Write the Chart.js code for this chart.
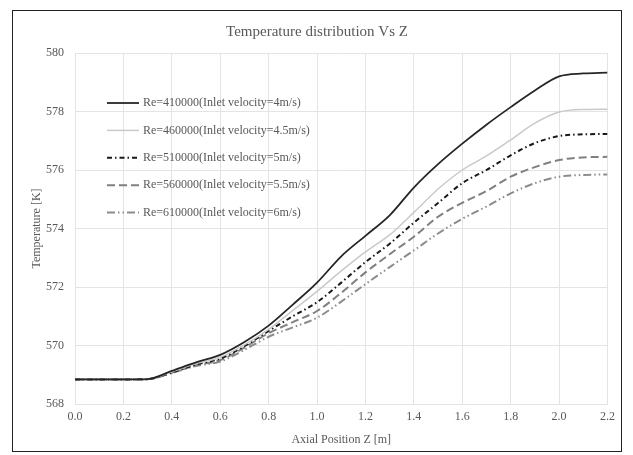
<!DOCTYPE html>
<html>
<head>
<meta charset="utf-8">
<script src="https://cdn.jsdelivr.net/npm/chart.js@4.4.1/dist/chart.umd.min.js"></script>
<style>
  html,body{margin:0;padding:0;background:#fff;}
  #frame{position:absolute;left:12px;top:10px;width:608px;height:440px;border:1px solid #222;}
  canvas{display:block;}
</style>
</head>
<body>
<div id="frame"><canvas id="c" width="608" height="440"></canvas></div>
<script>
// axial position Z [m]
const zPos = [0, 0.1, 0.2, 0.3, 0.4, 0.5, 0.6, 0.7, 0.8, 0.9, 1.0, 1.1, 1.2, 1.3, 1.4, 1.5, 1.6, 1.7, 1.8, 1.9, 2.0, 2.1, 2.2];

// temperature [K] per Reynolds number
const t410k = [568.84, 568.84, 568.84, 568.85, 569.13, 569.42, 569.68, 570.12, 570.68, 571.40, 572.15, 573.05, 573.75, 574.45, 575.40, 576.20, 576.90, 577.55, 578.15, 578.72, 579.20, 579.30, 579.33];
const t460k = [568.84, 568.84, 568.84, 568.85, 569.10, 569.38, 569.60, 570.02, 570.55, 571.20, 571.85, 572.55, 573.20, 573.78, 574.55, 575.35, 576.00, 576.48, 577.03, 577.60, 577.98, 578.07, 578.08];
const t510k = [568.84, 568.84, 568.84, 568.85, 569.08, 569.35, 569.55, 569.98, 570.50, 571.00, 571.48, 572.15, 572.85, 573.48, 574.20, 574.87, 575.55, 576.00, 576.50, 576.92, 577.16, 577.22, 577.23];
const t560k = [568.84, 568.84, 568.84, 568.85, 569.07, 569.33, 569.50, 569.93, 570.42, 570.80, 571.18, 571.80, 572.50, 573.12, 573.72, 574.40, 574.88, 575.28, 575.77, 576.10, 576.34, 576.43, 576.45];
const t610k = [568.84, 568.84, 568.84, 568.85, 569.06, 569.30, 569.45, 569.85, 570.30, 570.62, 570.95, 571.50, 572.10, 572.68, 573.25, 573.83, 574.33, 574.75, 575.20, 575.55, 575.77, 575.83, 575.85];

const labels = [
  "Re=410000(Inlet velocity=4m/s)",
  "Re=460000(Inlet velocity=4.5m/s)",
  "Re=510000(Inlet velocity=5m/s)",
  "Re=560000(Inlet velocity=5.5m/s)",
  "Re=610000(Inlet velocity=6m/s)"
];

const FONT = "'Liberation Serif','Times New Roman',serif";
const TXT = "#595959";
const GRID = "#e4e4e4";

function pts(arr){ return zPos.map((z,i)=>({x:z, y:arr[i]})); }

function ds(label, arr, color, width, dash){
  return {
    label: label, data: pts(arr),
    borderColor: color, backgroundColor: color,
    borderWidth: width, borderDash: dash,
    pointRadius: 0, cubicInterpolationMode: 'monotone', fill: false
  };
}

// legend drawn inside the plot, top-left, like the original
const innerLegend = {
  id: 'innerLegend',
  afterDatasetsDraw(chart){
    const ctx = chart.ctx;
    const x0 = 94, x1 = 126, tx = 130, y0 = 92, step = 27.4;
    chart.data.datasets.forEach((d,i)=>{
      const y = y0 + i*step;
      ctx.save();
      ctx.strokeStyle = d.borderColor;
      ctx.lineWidth = d.borderWidth;
      ctx.setLineDash(d.borderDash || []);
      ctx.beginPath(); ctx.moveTo(x0,y); ctx.lineTo(x1,y); ctx.stroke();
      ctx.setLineDash([]);
      ctx.fillStyle = TXT;
      ctx.font = "12px " + FONT;
      ctx.textBaseline = 'middle';
      ctx.fillText(d.label, tx, y);
      ctx.restore();
    });
  }
};

new Chart(document.getElementById('c'), {
  type: 'line',
  data: {
    datasets: [
      ds(labels[0], t410k, '#262626', 1.8, []),
      ds(labels[1], t460k, '#c9c9c9', 1.5, []),
      ds(labels[2], t510k, '#1a1a1a', 2, [5,3,1.5,3]),
      ds(labels[3], t560k, '#808080', 2, [8,4]),
      ds(labels[4], t610k, '#8c8c8c', 2, [8,3,1.5,3,1.5,3])
    ]
  },
  options: {
    responsive: false,
    animation: false,
    layout: { padding: { left: 0, right: 0, top: 0, bottom: 0 } },
    plugins: {
      legend: { display: false },
      tooltip: { enabled: false },
      title: {
        display: true, text: 'Temperature distribution Vs Z',
        color: TXT, font: { family: FONT, size: 15, weight: 'normal' },
        padding: { top: 12, bottom: 12 }
      }
    },
    scales: {
      x: {
        type: 'linear', min: 0, max: 2.2,
        afterFit(s){ s.height = 47; },
        grid: { color: GRID, drawTicks: false },
        border: { color: GRID },
        ticks: {
          stepSize: 0.2, padding: 6, color: TXT, maxRotation: 0,
          font: { family: FONT, size: 12 },
          callback: v => Number(v).toFixed(1)
        },
        title: {
          display: true, text: 'Axial Position Z [m]', color: TXT,
          font: { family: FONT, size: 12 }, padding: { top: 0, bottom: 4 }
        }
      },
      y: {
        min: 568, max: 580,
        afterFit(s){ s.width = 62; },
        grid: { color: GRID, drawTicks: false },
        border: { color: GRID },
        ticks: {
          stepSize: 2, padding: 11, color: TXT,
          font: { family: FONT, size: 12 }
        },
        title: {
          display: true, text: 'Temperature [K]', color: TXT,
          font: { family: FONT, size: 12 }, padding: { top: 17, bottom: 0 }
        }
      }
    }
  },
  plugins: [innerLegend]
});
</script>
</body>
</html>
